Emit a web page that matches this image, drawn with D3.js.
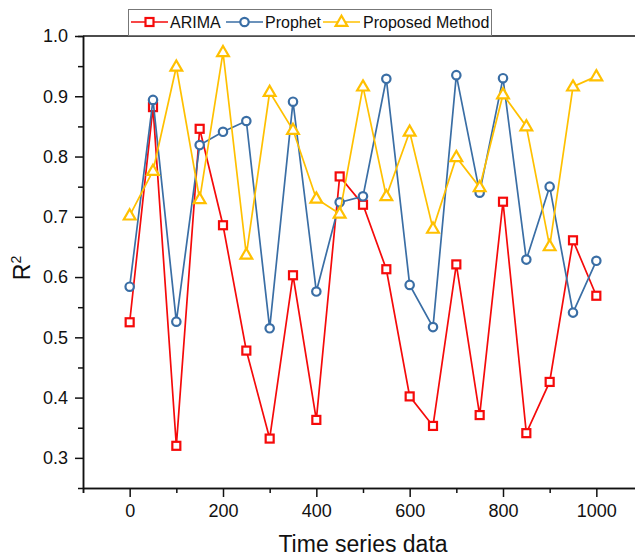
<!DOCTYPE html>
<html><head><meta charset="utf-8">
<script src="https://cdn.jsdelivr.net/npm/d3@7"></script>
<style>body{margin:0;background:#fff}svg{display:block}text{font-family:"Liberation Sans",Arial,sans-serif;fill:#111}</style>
</head><body>
<svg id="c" width="635" height="559"></svg>
<script>
const xs = [0,50,100,150,200,250,300,350,400,450,500,550,600,650,700,750,800,850,900,950,1000];
const arima = [0.525,0.882,0.320,0.846,0.686,0.478,0.332,0.603,0.363,0.767,0.720,0.613,0.402,0.353,0.621,0.371,0.725,0.341,0.426,0.661,0.569];
const prophet = [0.584,0.894,0.526,0.819,0.841,0.859,0.515,0.891,0.576,0.724,0.734,0.929,0.587,0.517,0.935,0.740,0.930,0.629,0.750,0.541,0.627];
const proposed = [0.702,0.776,0.949,0.729,0.973,0.637,0.907,0.844,0.730,0.705,0.916,0.734,0.841,0.680,0.799,0.749,0.903,0.850,0.651,0.916,0.933];
const seriesNames = ["ARIMA","Prophet","Proposed Method"];
const xTicks = [0,200,400,600,800,1000];
const yTicks = [0.3,0.4,0.5,0.6,0.7,0.8,0.9,1.0];

const colors = ["#f50a0a","#3a6ea5","#ffc000"];
const svg = d3.select("#c");
const L=83, R=643, T=36, B=488;
const x = d3.scaleLinear().domain([-100,1100]).range([L,R]);
const y = d3.scaleLinear().domain([0.25,1.0]).range([B,T]);

// frame top
svg.append("line").attr("x1",L).attr("x2",R).attr("y1",T).attr("y2",T).attr("stroke","#111").attr("stroke-width",1.5);

// bottom axis
const gx = svg.append("g").attr("transform",`translate(0,${B})`);
gx.call(d3.axisBottom(x).tickValues(xTicks).tickSize(9).tickSizeOuter(0).tickFormat(d3.format("d")));
gx.append("g").call(d3.axisBottom(x).tickValues(d3.range(-100,1101,200)).tickSize(5).tickFormat(""));
gx.selectAll(".domain").attr("stroke","#111").attr("stroke-width",1.5);
gx.selectAll("line").attr("stroke","#111").attr("stroke-width",1.5);
gx.selectAll("text").attr("font-size",18).attr("dy","0.95em").style("fill","#111");

// left axis
const gy = svg.append("g").attr("transform",`translate(${L},0)`);
gy.call(d3.axisLeft(y).tickValues(yTicks).tickSize(8).tickSizeOuter(0).tickFormat(d3.format(".1f")));
gy.append("g").call(d3.axisLeft(y).tickValues(d3.range(0.35,1.0,0.1)).tickSize(5).tickFormat(""));
gy.selectAll(".domain").attr("stroke","#111").attr("stroke-width",1.5);
gy.selectAll("line").attr("stroke","#111").attr("stroke-width",1.5);
gy.selectAll("text").attr("font-size",18).attr("x",-15).style("fill","#111");

// axis titles
svg.append("text").attr("x",(L+R)/2).attr("y",552).attr("text-anchor","middle").attr("font-size",23).text("Time series data");
const yt = svg.append("text").attr("transform","translate(30,268) rotate(-90)").attr("text-anchor","middle").attr("font-size",23);
yt.append("tspan").text("R");
yt.append("tspan").attr("font-size",14).attr("dy",-9).text("2");

const datasets = [arima, prophet, proposed];
const line = d3.line().x((d,i)=>x(xs[i])).y(d=>y(d));
const tri = d3.symbol().type(d3.symbolTriangle).size(60);

function marker(g, k, cx, cy){
  if(k===0){
    g.append("rect").attr("x",cx-4).attr("y",cy-4).attr("width",8).attr("height",8)
      .attr("fill","#fff").attr("stroke",colors[0]).attr("stroke-width",2.2);
  } else if(k===1){
    g.append("circle").attr("cx",cx).attr("cy",cy).attr("r",4.2)
      .attr("fill","#fff").attr("stroke",colors[1]).attr("stroke-width",2.2);
  } else {
    g.append("path").attr("d",tri).attr("transform",`translate(${cx},${cy+0.5})`)
      .attr("fill","#fff").attr("stroke",colors[2]).attr("stroke-width",2.2);
  }
}

datasets.forEach((data,k)=>{
  const g = svg.append("g");
  g.append("path").datum(data).attr("d",line).attr("fill","none").attr("stroke",colors[k]).attr("stroke-width",1.7);
  data.forEach((d,i)=>marker(g,k,x(xs[i]),y(d)));
});

// legend
const lg = svg.append("g");
lg.append("rect").attr("x",128.5).attr("y",9.5).attr("width",363).attr("height",26).attr("fill","#fff").attr("stroke","#777").attr("stroke-width",1);
const items = [{x0:131,tx:170},{x0:226,tx:265},{x0:323,tx:363}];
items.forEach((it,k)=>{
  const ly=22;
  lg.append("line").attr("x1",it.x0).attr("x2",it.x0+37).attr("y1",ly).attr("y2",ly).attr("stroke",colors[k]).attr("stroke-width",1.7);
  marker(lg,k,it.x0+18.5,ly);
  lg.append("text").attr("x",it.tx).attr("y",ly+6).attr("font-size",16).text(seriesNames[k]);
});
</script>
</body></html>
